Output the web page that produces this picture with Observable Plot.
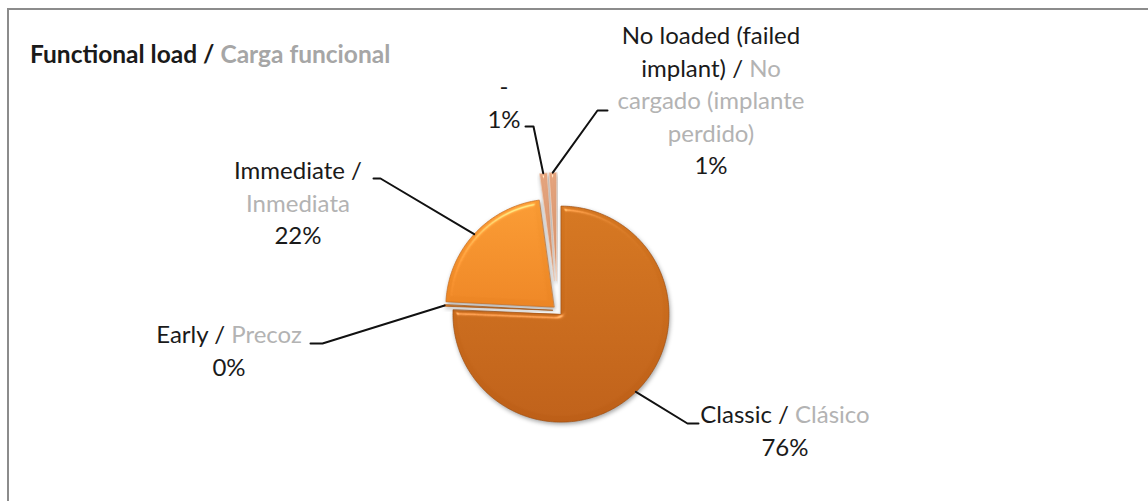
<!DOCTYPE html>
<html>
<head>
<meta charset="utf-8">
<script src="https://cdn.jsdelivr.net/npm/d3@7"></script>
<script src="https://cdn.jsdelivr.net/npm/@observablehq/plot@0.6"></script>
<style>
  html, body { margin: 0; padding: 0; background: #fff; }
  #wrap { position: relative; width: 1148px; height: 501px; overflow: hidden; background: #fff; }
  #chart { position: absolute; left: 0; top: 0; }
  #frame { position: absolute; left: 7px; top: 8px; width: 1200px; height: 600px;
           border-top: 2px solid #8c8c8c; border-left: 2px solid #8c8c8c; pointer-events: none; }
</style>
</head>
<body>
<div id="wrap"><div id="chart"></div><div id="frame"></div></div>
<script>
// ---------------- data ----------------
const titleEn = "Functional load";
const titleEs = "Carga funcional";
const categoriesEn = ["Classic", "Early", "Immediate", "-", "No loaded (failed implant)"];
const categoriesEs = ["Clásico", "Precoz", "Inmediata", "", "No cargado (implante perdido)"];
const shares = [75.6, 0.2, 22.0, 1.1, 1.1]; // percent of implants

// ---------------- styles / layout ----------------
const W = 1148, H = 501;
const PIE = {cx: 557, cy: 310, r: 108};
const explode = [5, 5, 5, 30, 30];
const sliceTop = ["#d47620", "#e0822a", "#f89a33", "#e4a47e", "#e4a47e"];
const sliceBottom = ["#bd5f18", "#cf701e", "#ec8524", "#d48e66", "#d48e66"];
const sliceStroke = ["#a04f10", "#b05c15", "#c96d1d", "#f2d3bf", "#f2d3bf"];
const EN_COLOR = "#1a1a1a", ES_COLOR = "#b3b3b3";
const FONT = "Lato, 'Open Sans', sans-serif";
const LABEL_SIZE = 24, LINE_H = 32.5;
// label anchor (centre x, first baseline y), words per line, leader elbow and end
const labelLayout = [
  {x: 785, y: 423, lines: [3],          elbow: [687, 423], end: [698, 423]},
  {x: 229, y: 343, lines: [3],          elbow: [322, 343], end: [310, 343]},
  {x: 298, y: 179, lines: [2, 1],       elbow: [380, 178], end: [373, 178]},
  {x: 504, y: 95,  lines: [1],          elbow: [533, 126], end: [525, 126]},
  {x: 711, y: 44,  lines: [3, 3, 2, 1], elbow: [597, 110], end: [607, 110]}
];

// ---------------- geometry from data ----------------
const arcs = d3.pie().sort(null).value(d => d)(shares);
const slices = arcs.map((a, i) => {
  const mid = (a.startAngle + a.endAngle) / 2;
  const cx = PIE.cx + explode[i] * Math.sin(mid);
  const cy = PIE.cy - explode[i] * Math.cos(mid);
  const n = Math.max(2, Math.ceil((a.endAngle - a.startAngle) / (Math.PI / 180)));
  const pts = [{x: cx, y: cy}];
  for (let k = 0; k <= n; k++) {
    const t = a.startAngle + (a.endAngle - a.startAngle) * k / n;
    pts.push({x: cx + PIE.r * Math.sin(t), y: cy - PIE.r * Math.cos(t)});
  }
  return {i, pts, anchor: {x: cx + PIE.r * Math.sin(mid), y: cy - PIE.r * Math.cos(mid)}};
});

const leaders = slices.flatMap((s, i) => {
  const L = labelLayout[i];
  return [
    {key: i, x: s.anchor.x, y: s.anchor.y},
    {key: i, x: L.elbow[0], y: L.elbow[1]},
    {key: i, x: L.end[0], y: L.end[1]}
  ];
});

// words for each label: English (black), "/", Spanish (grey), then percentage
function labelLines(i) {
  const words = categoriesEn[i].split(" ").map(t => ({t, c: EN_COLOR}));
  if (categoriesEs[i]) {
    words.push({t: "/", c: EN_COLOR});
    categoriesEs[i].split(" ").forEach(t => words.push({t, c: ES_COLOR}));
  }
  const lines = [];
  let k = 0;
  for (const n of labelLayout[i].lines) { lines.push(words.slice(k, k + n)); k += n; }
  lines.push([{t: Math.round(shares[i]) + "%", c: EN_COLOR}]);
  return lines;
}

function renderText(index, scales) {
  const g = d3.create("svg:g").attr("font-family", FONT);
  const tt = g.append("text").attr("x", scales.x(30)).attr("y", scales.y(63))
    .attr("text-anchor", "start").attr("font-size", 24.5).attr("font-weight", "bold");
  tt.append("tspan").attr("fill", EN_COLOR).text(titleEn + " / ");
  tt.append("tspan").attr("fill", "#a6a6a6").text(titleEs);
  labelLayout.forEach((L, i) => {
    labelLines(i).forEach((line, j) => {
      const t = g.append("text")
        .attr("x", scales.x(L.x)).attr("y", scales.y(L.y + j * LINE_H))
        .attr("text-anchor", "middle").attr("font-size", LABEL_SIZE);
      line.forEach((w, m) => {
        t.append("tspan").attr("fill", w.c).text((m > 0 ? " " : "") + w.t);
      });
    });
  });
  return g.node();
}

const plot = Plot.plot({
  width: W, height: H, margin: 0,
  style: {background: "transparent", fontFamily: FONT},
  x: {domain: [0, W], range: [0, W], axis: null},
  y: {domain: [0, H], range: [0, H], axis: null},
  marks: [
    ...slices.map(s => Plot.line(s.pts, {
      x: "x", y: "y", curve: "linear-closed",
      fill: sliceBottom[s.i], stroke: sliceStroke[s.i], strokeWidth: 0.7
    })),
    Plot.line(leaders, {x: "x", y: "y", z: "key", stroke: "#111", strokeWidth: 2, curve: "linear"}),
    renderText
  ]
});

// gradients and bevel/shadow filter
const svg = d3.select(plot);
const defs = svg.insert("svg:defs", ":first-child");
slices.forEach(s => {
  const gr = defs.append("svg:linearGradient").attr("id", "slicegrad" + s.i)
    .attr("x1", 0).attr("y1", 0).attr("x2", 0).attr("y2", 1);
  gr.append("svg:stop").attr("offset", "0%").attr("stop-color", sliceTop[s.i]);
  gr.append("svg:stop").attr("offset", "100%").attr("stop-color", sliceBottom[s.i]);
});
const f = defs.append("svg:filter").attr("id", "bevel")
  .attr("x", "-20%").attr("y", "-20%").attr("width", "140%").attr("height", "140%")
  .attr("color-interpolation-filters", "sRGB");
f.append("svg:feGaussianBlur").attr("in", "SourceAlpha").attr("stdDeviation", 2.5).attr("result", "blur");
const sp = f.append("svg:feSpecularLighting").attr("in", "blur").attr("surfaceScale", 5)
  .attr("specularConstant", 0.8).attr("specularExponent", 28).attr("lighting-color", "#ffffff").attr("result", "spec");
sp.append("svg:feDistantLight").attr("azimuth", 250).attr("elevation", 35);
f.append("svg:feComposite").attr("in", "spec").attr("in2", "SourceAlpha").attr("operator", "in").attr("result", "specIn");
f.append("svg:feComposite").attr("in", "SourceGraphic").attr("in2", "specIn").attr("operator", "arithmetic")
  .attr("k1", 0).attr("k2", 1).attr("k3", 0.4).attr("k4", 0).attr("result", "lit");
f.append("svg:feGaussianBlur").attr("in", "SourceAlpha").attr("stdDeviation", 2).attr("result", "sblur");
f.append("svg:feOffset").attr("in", "sblur").attr("dx", 1).attr("dy", 2).attr("result", "soff");
f.append("svg:feFlood").attr("flood-color", "#000").attr("flood-opacity", 0.35).attr("result", "flood");
f.append("svg:feComposite").attr("in", "flood").attr("in2", "soff").attr("operator", "in").attr("result", "shadow");
const mg = f.append("svg:feMerge");
mg.append("svg:feMergeNode").attr("in", "shadow");
mg.append("svg:feMergeNode").attr("in", "lit");

// the first five line groups are the slices (mark order)
svg.selectAll('g[aria-label="line"]').each(function(_, gi) {
  if (gi < slices.length) {
    d3.select(this).selectAll("path")
      .attr("fill", `url(#slicegrad${gi})`)
      .attr("filter", "url(#bevel)");
  }
});

document.getElementById("chart").appendChild(plot);
</script>
</body>
</html>
